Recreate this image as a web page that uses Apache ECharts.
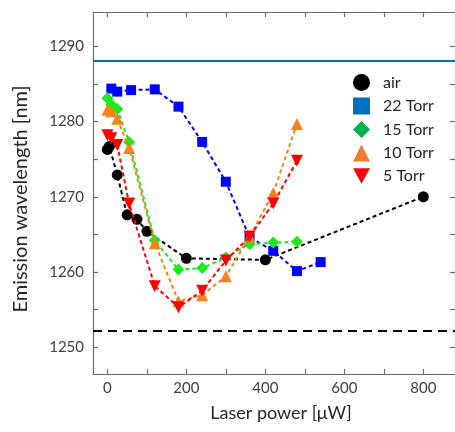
<!DOCTYPE html>
<html><head><meta charset="utf-8">
<script src="https://cdn.jsdelivr.net/npm/echarts@6/dist/echarts.min.js"></script>
<style>html,body{margin:0;padding:0;background:#fff}#c{width:455px;height:432px}</style>
</head><body><div id="c"></div>
<script>
var seriesNames = ['air', '22 Torr', '15 Torr', '10 Torr', '5 Torr'];
var airX = [0, 5, 25, 50, 75, 100, 200, 400, 800];
var airY = [1276.3, 1276.7, 1272.9, 1267.6, 1267.0, 1265.4, 1261.8, 1261.6, 1270.0];
var t22X = [10, 25, 60, 120, 180, 240, 300, 360, 420, 480, 540];
var t22Y = [1284.4, 1284.0, 1284.2, 1284.3, 1282.0, 1277.3, 1272.0, 1264.6, 1262.8, 1260.1, 1261.3];
var t15X = [0, 10, 25, 55, 120, 180, 240, 300, 360, 420, 480];
var t15Y = [1283.1, 1282.3, 1281.7, 1277.3, 1264.2, 1260.3, 1260.5, 1261.9, 1263.7, 1263.9, 1264.0];
var t10X = [0, 10, 25, 55, 120, 180, 240, 300, 360, 420, 480];
var t10Y = [1281.6, 1281.4, 1280.4, 1276.5, 1263.8, 1256.1, 1256.9, 1259.4, 1264.7, 1270.5, 1279.7];
var t5X = [0, 10, 25, 55, 120, 180, 240, 300, 360, 420, 480];
var t5Y = [1278.2, 1277.8, 1276.9, 1269.1, 1258.1, 1255.3, 1257.5, 1261.5, 1264.7, 1269.1, 1274.8];
var refLines = [1288.1, 1252.1];
var xLabelValues = [0, 200, 400, 600, 800];
var xTickValues = [0, 100, 200, 300, 400, 500, 600, 700, 800];
var yLabelValues = [1250, 1260, 1270, 1280, 1290];
var yTickValues = [1250, 1255, 1260, 1265, 1270, 1275, 1280, 1285, 1290];

var FONT = 'Lato';
var dataColors = ['#000000', '#0000ff', '#1ee81e', '#f5821f', '#ff0000'];
var legendColors = ['#000000', '#0070c0', '#00b050', '#ed7d31', '#ff0000'];
var downTri = 'path://M0,0 L10,0 L5,9 Z';
var symbols = ['circle', 'rect', 'diamond', 'triangle', downTri];
var sizes = [11, 10, 12, 12, 12];
var xs = [airX, t22X, t15X, t10X, t5X];
var ys = [airY, t22Y, t15Y, t10Y, t5Y];

function zip(a, b) { return a.map(function (v, i) { return [v, b[i]]; }); }

var series = seriesNames.map(function (n, i) {
  return {
    name: n, type: 'line', data: zip(xs[i], ys[i]),
    symbol: symbols[i], symbolSize: sizes[i], showAllSymbol: true,
    itemStyle: { color: dataColors[i] },
    lineStyle: { color: dataColors[i], width: 2, type: [4, 3] },
    z: 3 + i, animation: false
  };
});
series.push({
  type: 'line', data: [], silent: true,
  markLine: {
    silent: true, symbol: 'none', label: { show: false }, animation: false,
    data: [
      { yAxis: refLines[0], lineStyle: { color: '#0070c0', width: 2, type: 'solid' } },
      { yAxis: refLines[1], lineStyle: { color: '#000000', width: 2, type: [9, 6] } }
    ]
  }
});

var axisLineStyle = { color: '#6e6e6e', width: 1.2 };
var chart = echarts.init(document.getElementById('c'), null, { renderer: 'canvas' });
chart.setOption({
  animation: false,
  grid: { left: 93, top: 12, width: 363, height: 362 },
  legend: {
    orient: 'vertical', left: 348, top: 69,
    itemWidth: 17, itemHeight: 17, itemGap: 6.5,
    textStyle: { fontFamily: FONT, fontSize: 16, color: '#262626', padding: [0, 0, 0, 8] },
    data: seriesNames.map(function (n, i) {
      return { name: n, icon: symbols[i], itemStyle: { color: legendColors[i] } };
    })
  },
  xAxis: [{
    type: 'value', min: -36.4, max: 880.2,
    name: 'Laser power [μW]', nameLocation: 'middle', nameGap: 30,
    nameTextStyle: { fontFamily: FONT, fontSize: 18, color: '#262626', padding: [0, 0, 0, 14] },
    axisLine: { onZero: false, lineStyle: axisLineStyle },
    axisTick: { inside: true, length: 5, lineStyle: axisLineStyle, customValues: xTickValues },
    axisLabel: { fontFamily: FONT, fontSize: 15, color: '#404040', margin: 7, customValues: xLabelValues },
    splitLine: { show: false }
  }, {
    type: 'value', min: -36.4, max: 880.2, position: 'top',
    axisLine: { show: true, onZero: false, lineStyle: axisLineStyle },
    axisTick: { inside: true, length: 5, lineStyle: axisLineStyle, customValues: xTickValues },
    axisLabel: { show: false }, splitLine: { show: false }
  }],
  yAxis: [{
    type: 'value', min: 1246.4, max: 1294.6,
    name: 'Emission wavelength [nm]', nameLocation: 'middle', nameGap: 62,
    nameTextStyle: { fontFamily: FONT, fontSize: 20, color: '#262626', padding: [0, 12, 0, 0] },
    axisLine: { show: true, onZero: false, lineStyle: axisLineStyle },
    axisTick: { show: true, inside: true, length: 5, lineStyle: axisLineStyle, customValues: yTickValues },
    axisLabel: { fontFamily: FONT, fontSize: 15, color: '#404040', margin: 9, customValues: yLabelValues,
      formatter: function (v) { return String(v); } },
    splitLine: { show: false }
  }, {
    type: 'value', min: 1246.4, max: 1294.6, position: 'right',
    axisLine: { show: true, onZero: false, lineStyle: axisLineStyle },
    axisTick: { show: true, inside: true, length: 5, lineStyle: axisLineStyle, customValues: yTickValues },
    axisLabel: { show: false }, splitLine: { show: false }
  }],
  series: series
});
</script></body></html>
